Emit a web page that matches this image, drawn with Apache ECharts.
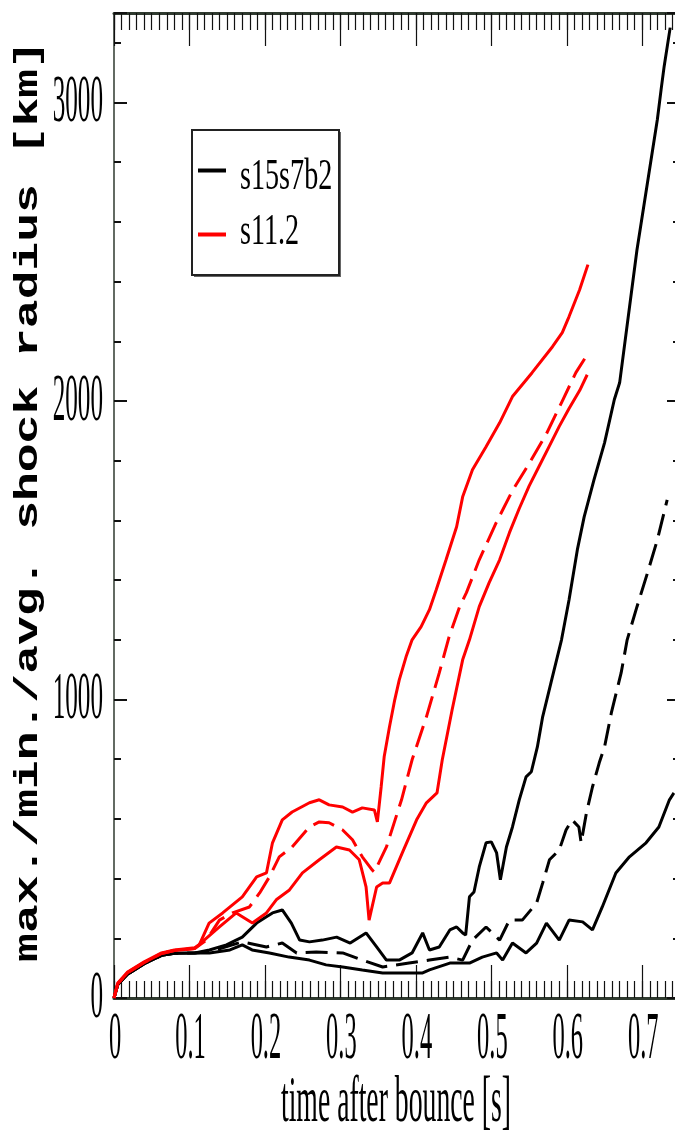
<!DOCTYPE html>
<html><head><meta charset="utf-8">
<script src="https://cdn.jsdelivr.net/npm/echarts@6/dist/echarts.min.js"></script>
<style>html,body{margin:0;padding:0;background:#fff}#c{width:675px;height:1136px}</style>
</head><body><div id="c"></div>
<script>
// ---- data (time after bounce [s], shock radius [km]) ----
const blackMaxT = [0, 0.005, 0.018, 0.04, 0.063, 0.08, 0.107, 0.1265, 0.149, 0.170, 0.189, 0.202, 0.210, 0.223, 0.235, 0.246, 0.259, 0.276, 0.295, 0.313, 0.334, 0.348, 0.361, 0.378, 0.395, 0.409, 0.418, 0.431, 0.445, 0.454, 0.462, 0.466, 0.471, 0.477, 0.484, 0.493, 0.500, 0.507, 0.512, 0.520, 0.528, 0.537, 0.546, 0.553, 0.561, 0.568, 0.579, 0.593, 0.603, 0.614, 0.623, 0.636, 0.650, 0.663, 0.670, 0.693, 0.720, 0.725, 0.729, 0.737];
const blackMaxR = [0, 45, 80, 115, 143, 150, 151, 161, 178, 204, 251, 272, 285, 295, 251, 194, 188, 194, 204, 184, 218, 171, 127, 127, 151, 218, 161, 171, 228, 238, 218, 211, 339, 355, 439, 520, 523, 486, 396, 506, 573, 664, 741, 758, 841, 942, 1056, 1200, 1334, 1502, 1612, 1736, 1860, 2005, 2061, 2507, 2943, 3044, 3121, 3251];

const blackAvgT = [0, 0.005, 0.018, 0.04, 0.063, 0.08, 0.107, 0.1265, 0.170, 0.202, 0.223, 0.242, 0.268, 0.303, 0.329, 0.356, 0.391, 0.418, 0.445, 0.462, 0.475, 0.493, 0.511, 0.524, 0.541, 0.560, 0.568, 0.577, 0.590, 0.599, 0.607, 0.616, 0.619, 0.626, 0.634, 0.643, 0.650, 0.659, 0.672, 0.680, 0.693, 0.707, 0.720, 0.733];
const blackAvgR = [0, 45, 80, 115, 143, 150, 151, 155, 188, 171, 184, 151, 154, 151, 127, 104, 117, 127, 137, 127, 194, 238, 194, 261, 261, 318, 385, 463, 496, 563, 597, 573, 520, 620, 707, 788, 841, 955, 1089, 1200, 1311, 1425, 1535, 1669];

const blackMinT = [0, 0.005, 0.018, 0.04, 0.063, 0.08, 0.107, 0.1265, 0.1536, 0.170, 0.183, 0.206, 0.232, 0.259, 0.281, 0.303, 0.329, 0.356, 0.383, 0.409, 0.418, 0.445, 0.471, 0.488, 0.507, 0.515, 0.528, 0.546, 0.560, 0.573, 0.590, 0.603, 0.621, 0.634, 0.647, 0.665, 0.683, 0.705, 0.722, 0.736, 0.742];
const blackMinR = [0, 45, 80, 115, 143, 150, 151, 151, 161, 178, 161, 151, 137, 127, 111, 104, 94, 84, 84, 84, 94, 117, 117, 137, 151, 127, 184, 151, 184, 251, 194, 261, 255, 228, 305, 419, 473, 520, 573, 664, 687];

const redMaxT = [0, 0.005, 0.018, 0.04, 0.063, 0.08, 0.107, 0.113, 0.126, 0.144, 0.170, 0.189, 0.202, 0.210, 0.223, 0.236, 0.259, 0.272, 0.285, 0.303, 0.316, 0.329, 0.345, 0.349, 0.354, 0.358, 0.365, 0.372, 0.378, 0.387, 0.395, 0.407, 0.418, 0.427, 0.440, 0.454, 0.462, 0.475, 0.493, 0.511, 0.528, 0.554, 0.581, 0.594, 0.603, 0.617, 0.628];
const redMaxR = [0, 50, 87, 121, 151, 161, 168, 178, 251, 285, 339, 406, 419, 520, 597, 623, 654, 664, 647, 640, 623, 637, 630, 590, 707, 808, 908, 999, 1066, 1143, 1200, 1244, 1301, 1368, 1468, 1579, 1679, 1770, 1847, 1927, 2015, 2095, 2182, 2229, 2283, 2373, 2457];

const redAvgT = [0, 0.005, 0.018, 0.04, 0.063, 0.08, 0.107, 0.1225, 0.1397, 0.157, 0.1795, 0.193, 0.206, 0.219, 0.236, 0.259, 0.272, 0.285, 0.303, 0.316, 0.329, 0.342, 0.345, 0.361, 0.381, 0.395, 0.414, 0.431, 0.444, 0.458, 0.467, 0.484, 0.506, 0.528, 0.550, 0.573, 0.594, 0.612, 0.627];
const redAvgR = [0, 48, 85, 119, 149, 159, 166, 194, 261, 285, 305, 352, 406, 473, 506, 573, 590, 587, 563, 530, 473, 429, 422, 506, 664, 798, 942, 1089, 1210, 1311, 1358, 1468, 1590, 1700, 1790, 1890, 2000, 2095, 2155];

const redMinT = [0, 0.005, 0.018, 0.04, 0.063, 0.08, 0.107, 0.1397, 0.162, 0.1834, 0.202, 0.215, 0.2325, 0.2497, 0.272, 0.2947, 0.312, 0.325, 0.334, 0.338, 0.348, 0.356, 0.365, 0.382, 0.401, 0.414, 0.428, 0.435, 0.448, 0.462, 0.471, 0.484, 0.497, 0.511, 0.524, 0.537, 0.550, 0.564, 0.577, 0.590, 0.603, 0.617, 0.627];
const redMinR = [0, 48, 85, 119, 149, 159, 166, 238, 285, 251, 285, 329, 362, 419, 463, 506, 496, 463, 372, 261, 372, 385, 385, 486, 597, 654, 687, 798, 965, 1133, 1200, 1311, 1391, 1468, 1559, 1640, 1715, 1785, 1850, 1915, 1975, 2035, 2088];

const xTickValues = [0, 0.1, 0.2, 0.3, 0.4, 0.5, 0.6, 0.7];
const xTickLabels = ['0', '0.1', '0.2', '0.3', '0.4', '0.5', '0.6', '0.7'];
const yTickValues = [0, 1000, 2000, 3000];
const yTickLabels = ['0', '1000', '2000', '3000'];
const legendNames = ['s15s7b2', 's11.2'];
const xTitle = 'time after bounce [s]';
const yTitle = 'max./min./avg. shock radius [km]';

// ---- chart ----
const chart = echarts.init(document.getElementById('c'), null, {renderer: 'canvas'});
const zip = (t, r) => t.map((v, i) => [v, r[i]]);

function xAx(pos, interval, len, showLine) {
  return {type: 'value', position: pos, min: 0, max: 0.75, interval: interval, gridIndex: 0,
    axisLine: {show: showLine, onZero: false, lineStyle: {color: '#2f3a2f', width: 3}},
    axisTick: {show: true, inside: true, length: len, lineStyle: {color: '#111', width: 1.2}},
    axisLabel: {show: false}, splitLine: {show: false}, minorTick: {show: false}};
}
function yAx(pos, interval, len, showLine) {
  return {type: 'value', position: pos, min: 0, max: 3300, interval: interval, gridIndex: 0,
    axisLine: {show: showLine, onZero: false, lineStyle: {color: '#2f3a2f', width: 1.5}},
    axisTick: {show: true, inside: true, length: len, lineStyle: {color: '#111', width: 2}},
    axisLabel: {show: false}, splitLine: {show: false}, minorTick: {show: false}};
}
function ser(name, t, r, color, dashed) {
  return {type: 'line', name: name, data: zip(t, r), xAxisIndex: 0, yAxisIndex: 0,
    showSymbol: false, symbol: 'none', clip: true,
    lineStyle: {color: color, width: 3, type: dashed ? [22, 9] : 'solid'},
    itemStyle: {color: color}, emphasis: {disabled: true}};
}

chart.setOption({
  animation: false,
  backgroundColor: '#ffffff',
  grid: {left: 114, top: 13, width: 566, height: 985, containLabel: false, outerBoundsMode: 'none'},
  xAxis: [xAx('bottom', 0.1, 33, true), xAx('bottom', 0.01, 17, false), xAx('top', 0.1, 33, true), xAx('top', 0.01, 17, false)],
  yAxis: [yAx('left', 1000, 13, true), yAx('left', 200, 7, false), yAx('right', 1000, 13, true), yAx('right', 200, 7, false)],
  series: [
    ser('s15s7b2 max', blackMaxT, blackMaxR, '#000000', false),
    ser('s15s7b2 avg', blackAvgT, blackAvgR, '#000000', true),
    ser('s15s7b2 min', blackMinT, blackMinR, '#000000', false),
    ser('s11.2 max', redMaxT, redMaxR, '#ff0000', false),
    ser('s11.2 avg', redAvgT, redAvgR, '#ff0000', true),
    ser('s11.2 min', redMinT, redMinR, '#ff0000', false)
  ]
});

// ---- texts (condensed, as in the reference) ----
function txt(s, x, y, font, sx, sy, align, extra) {
  return Object.assign({type: 'text', x: x, y: y, scaleX: sx, scaleY: sy, silent: true, z: 100,
    style: {text: s, font: font, fill: '#000', align: align, textAlign: align,
      verticalAlign: 'middle', textVerticalAlign: 'middle'}}, extra || {});
}
const serif = (px) => px + 'px "Liberation Serif", "Times New Roman", serif';
const g = [];
xTickValues.forEach((v, i) => {
  const px = chart.convertToPixel({xAxisIndex: 0}, v);
  g.push(txt(xTickLabels[i], px + 1, 1040, serif(68), 0.36, 1, 'center'));
});
yTickValues.forEach((v, i) => {
  const py = chart.convertToPixel({yAxisIndex: 0}, v);
  g.push(txt(yTickLabels[i], 103, py + 1, serif(68), 0.37, 1, 'right'));
});
g.push(txt(xTitle, 396, 1104, serif(66), 0.42, 1, 'center'));
g.push(txt(yTitle, 29, 501, 'bold 48px "Liberation Mono", "Courier New", monospace', 1, 0.68, 'center', {rotation: Math.PI / 2}));

// legend box
g.push({type: 'rect', z: 90, silent: true, shape: {x: 194, y: 132, width: 147, height: 145}, style: {fill: '#666'}});
g.push({type: 'rect', z: 91, silent: true, shape: {x: 192, y: 130, width: 147, height: 145}, style: {fill: '#fff', stroke: '#222', lineWidth: 2}});
g.push({type: 'line', z: 95, silent: true, shape: {x1: 198, y1: 170.5, x2: 226, y2: 170.5}, style: {stroke: '#000', lineWidth: 4}});
g.push({type: 'line', z: 95, silent: true, shape: {x1: 198, y1: 234.5, x2: 226, y2: 234.5}, style: {stroke: '#ff0000', lineWidth: 4}});
g.push(txt(legendNames[0], 240, 177, serif(44), 0.64, 1, 'left'));
g.push(txt(legendNames[1], 240, 232.5, serif(44), 0.64, 1, 'left'));

chart.setOption({graphic: {elements: g}});
</script>
</body></html>
